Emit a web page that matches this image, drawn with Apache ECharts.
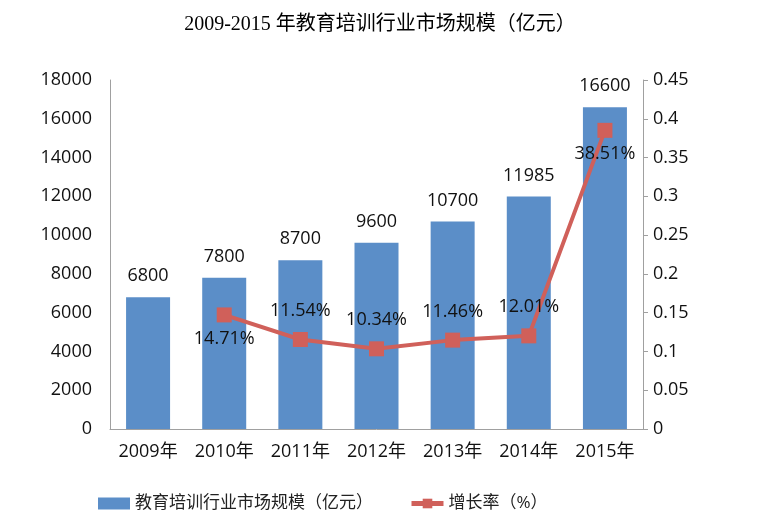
<!DOCTYPE html>
<html><head><meta charset="utf-8">
<script src="https://cdn.jsdelivr.net/npm/echarts@6/dist/echarts.min.js"></script>
<style>html,body{margin:0;padding:0;background:#fff}#c{width:760px;height:526px}</style>
</head><body><div id="c"></div>
<script>
const categories = ['2009年','2010年','2011年','2012年','2013年','2014年','2015年'];
const marketSize = [6800, 7800, 8700, 9600, 10700, 11985, 16600];
const growthRate = [null, 0.1471, 0.1154, 0.1034, 0.1146, 0.1201, 0.3851];
const growthLabelPos = [null, 'bottom', 'top', 'top', 'top', 'top', 'bottom'];
const leftTicks = {min: 0, max: 18000, interval: 2000};
const rightTicks = {min: 0, max: 0.45, interval: 0.05};

const font = '"Open Sans","Noto Sans CJK SC",sans-serif';
const chart = echarts.init(document.getElementById('c'));
chart.setOption({
  animation: false,
  title: {
    text: '2009-2015 年教育培训行业市场规模（亿元）',
    left: 'center', top: 10,
    textStyle: {fontFamily: '"Liberation Serif","Noto Sans CJK SC",serif', fontSize: 20, fontWeight: 'normal', color: '#000'}
  },
  legend: {
    bottom: 9, left: 93, itemGap: 36, itemWidth: 32, itemHeight: 12,
    textStyle: {fontFamily: font, fontSize: 17, color: '#222'},
    data: [
      {name: '教育培训行业市场规模（亿元）', icon: 'rect'},
      {name: '增长率（%）', lineStyle: {width: 5}}
    ]
  },
  grid: {left: 110, right: 117, top: 80, bottom: 97},
  xAxis: {
    type: 'category', data: categories,
    axisLine: {lineStyle: {color: '#a0a0a0'}},
    axisTick: {show: false},
    axisLabel: {interval: 0, fontFamily: font, fontSize: 18, color: '#111', margin: 14}
  },
  yAxis: [
    {type: 'value', min: leftTicks.min, max: leftTicks.max, interval: leftTicks.interval,
     axisLine: {show: true, lineStyle: {color: '#a0a0a0'}}, axisTick: {show: false},
     splitLine: {show: false},
     axisLabel: {fontFamily: font, fontSize: 18, color: '#111', margin: 18, formatter: v => String(v)}},
    {type: 'value', min: rightTicks.min, max: rightTicks.max, interval: rightTicks.interval,
     axisLine: {show: true, lineStyle: {color: '#a0a0a0'}},
     axisTick: {show: true, length: 5, lineStyle: {color: '#a0a0a0'}},
     splitLine: {show: false},
     axisLabel: {fontFamily: font, fontSize: 18, color: '#111', margin: 10,
       formatter: v => String(+v.toFixed(2))}}
  ],
  series: [
    {name: '教育培训行业市场规模（亿元）', type: 'bar', data: marketSize, barWidth: 44,
     itemStyle: {color: '#5b8ec8'},
     label: {show: true, position: 'top', distance: 12, fontFamily: font, fontSize: 18, color: '#111'}},
    {name: '增长率（%）', type: 'line', yAxisIndex: 1,
     data: growthRate.map((v, i) => ({value: v, label: {position: growthLabelPos[i], distance: growthLabelPos[i] === 'bottom' ? 7 : 12}})),
     symbol: 'rect', symbolSize: 15,
     lineStyle: {color: '#d0605a', width: 4},
     itemStyle: {color: '#d0605a'},
     label: {show: true, fontFamily: font, fontSize: 18, color: '#111',
       formatter: p => (p.value * 100).toFixed(2) + '%'}}
  ]
});
</script></body></html>
